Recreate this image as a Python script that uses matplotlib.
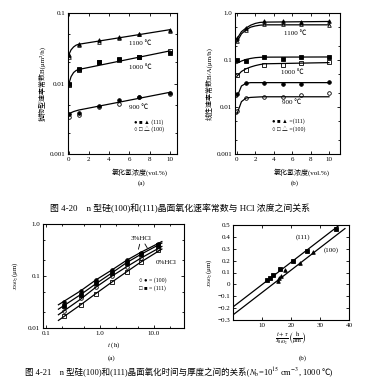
import matplotlib
matplotlib.use("Agg")
import matplotlib.pyplot as plt
from matplotlib.ticker import FixedLocator, NullFormatter, FixedFormatter

plt.rcParams['font.family'] = ['Liberation Serif', 'Noto Sans CJK SC', 'DejaVu Sans']
plt.rcParams['mathtext.fontset'] = 'stix'

# ---------------- data: Fig 4-20 (a) parabolic rate constant B ----------------
hcl_pts = [0, 1, 3, 5, 7, 10]
a_1100_111 = [0.025, 0.036, 0.041, 0.046, 0.051, 0.058]
a_1100_100 = [0.024, 0.035, 0.039, 0.044, 0.050, 0.056]
a_1000_111 = [0.0098, 0.0158, 0.020, 0.022, 0.024, 0.027]
a_1000_100 = [0.0095, 0.0155, 0.0205, 0.0215, 0.0235, 0.029]
a_900_111 = [0.0037, 0.0038, 0.0048, 0.0058, 0.0065, 0.0073]
a_900_100 = [0.0033, 0.0036, 0.0047, 0.0051, 0.0064, 0.0070]
# fitted curves
a_fit_x = [0, 0.25, 0.5, 0.75, 1, 10]
a_fit_1100 = [0.025, 0.030, 0.033, 0.035, 0.036, 0.058]
a_fit_1000 = [0.0095, 0.0125, 0.0143, 0.0153, 0.0158, 0.029]
a_fit_900 = [0.0037, 0.00385, 0.0040, 0.0041, 0.0042, 0.0075]

# ---------------- data: Fig 4-20 (b) linear rate constant B/A ----------------
b_1100_111 = [0.29, 0.47, 0.67, 0.66, 0.63, 0.67]
b_1100_100 = [0.25, 0.43, 0.59, 0.58, 0.57, 0.56]
b_1000_111 = [0.10, 0.095, 0.116, 0.103, 0.116, 0.118]
b_1000_100 = [0.047, 0.061, 0.079, 0.077, 0.088, 0.090]
b_900_111 = [0.0186, 0.033, 0.033, 0.031, 0.031, 0.034]
b_900_100 = [0.0083, 0.0154, 0.0166, 0.016, 0.0176, 0.0195]
b_fit_x = [0, 0.5, 1, 1.5, 2, 2.5, 3, 10]
b_fit_1100_111 = [0.28, 0.40, 0.48, 0.55, 0.60, 0.63, 0.64, 0.66]
b_fit_1100_100 = [0.24, 0.36, 0.44, 0.50, 0.53, 0.55, 0.56, 0.56]
b_fit_1000_111 = [0.085, 0.095, 0.103, 0.108, 0.112, 0.114, 0.115, 0.116]
b_fit_1000_100 = [0.045, 0.057, 0.065, 0.071, 0.076, 0.080, 0.083, 0.088]
b_fit_900_111 = [0.016, 0.028, 0.032, 0.033, 0.033, 0.033, 0.033, 0.033]
b_fit_900_100 = [0.007, 0.013, 0.0155, 0.016, 0.0162, 0.0164, 0.0165, 0.0165]

# ---------------- data: Fig 4-21 (a) thickness vs time ----------------
t_pts = [0.22, 0.44, 0.84, 1.65, 3.1, 5.7, 12]
x_3_100 = [0.032, 0.052, 0.085, 0.13, 0.20, 0.28, 0.42]
x_3_111 = [0.026, 0.044, 0.072, 0.115, 0.18, 0.26, 0.40]
x_0_100 = [0.021, 0.037, 0.062, 0.10, 0.15, 0.22, 0.34]
x_0_111 = [0.017, 0.028, 0.045, 0.075, 0.12, 0.19, 0.31]
t_fit = [0.17, 0.44, 0.84, 1.65, 3.1, 5.7, 14]
x_fit_3_100 = [0.028, 0.052, 0.084, 0.13, 0.20, 0.285, 0.46]
x_fit_3_111 = [0.023, 0.044, 0.071, 0.114, 0.18, 0.26, 0.43]
x_fit_0_100 = [0.018, 0.036, 0.061, 0.099, 0.15, 0.22, 0.37]
x_fit_0_111 = [0.014, 0.028, 0.046, 0.076, 0.12, 0.185, 0.33]

# ---------------- data: Fig 4-21 (b) linear plot ----------------
r_111 = [11.8, 12.8, 13.9, 16.3, 20.7, 25.4, 35.6]
y_111 = [0.04, 0.05, 0.08, 0.13, 0.20, 0.28, 0.47]
r_100 = [15.6, 15.7, 16.5, 17.9, 23.0, 27.7]
y_100 = [0.03, 0.05, 0.07, 0.12, 0.18, 0.27]
r_fit_111 = [0, 37.0]
y_fit_111 = [-0.19, 0.505]
r_fit_100 = [0, 38.6]
y_fit_100 = [-0.257, 0.47]

W, H = 376, 389
fig = plt.figure(figsize=(W / 100, H / 100), dpi=100)

def box(l, r, t, b):
    return [l / W, 1 - b / H, (r - l) / W, (b - t) / H]

FS = 5
LW = 0.9
MS = 2.6
CAP = 6.4
CAP2 = 6.1

def style(ax):
    ax.tick_params(direction='in', which='both', top=True, right=True,
                   labelsize=FS, length=2.5, width=0.6, pad=2)
    ax.tick_params(which='minor', length=1.5)
    for s in ax.spines.values():
        s.set_linewidth(0.8)

# ---------- top-left ----------
ax1 = fig.add_axes(box(68, 177, 13, 154))
ax1.set_yscale('log')
ax1.set_xlim(-0.05, 10.7)
ax1.set_ylim(0.001, 0.1)
for fy in (a_fit_1100, a_fit_1000, a_fit_900):
    ax1.plot(a_fit_x, fy, color='k', lw=LW)
for ys, mk, fc in [(a_1100_111, '^', 'k'), (a_1100_100, '^', 'none'),
                   (a_1000_111, 's', 'k'), (a_1000_100, 's', 'none'),
                   (a_900_111, 'o', 'k'), (a_900_100, 'o', 'none')]:
    ax1.plot(hcl_pts, ys, ls='none', marker=mk, ms=MS, mfc=fc, mec='k', mew=0.6)
ax1.set_xticks([0, 2, 4, 6, 8, 10])
ax1.yaxis.set_major_locator(FixedLocator([0.001, 0.01, 0.1]))
ax1.yaxis.set_major_formatter(FixedFormatter(['0.001', '0.01', '0.1']))
ax1.yaxis.set_minor_locator(FixedLocator([0.002, 0.005, 0.02, 0.05]))
ax1.yaxis.set_minor_formatter(NullFormatter())
style(ax1)
ax1.text(7.1, 0.037, '1100 ℃', fontsize=FS, ha='center', va='center')
ax1.text(7.1, 0.017, '1000 ℃', fontsize=FS, ha='center', va='center')
ax1.text(6.9, 0.0046, '900 ℃', fontsize=FS, ha='center', va='center')
ax1.text(7.9, 0.0028, '● ■ ▲ (111)', fontsize=4.2, ha='center', va='center')
ax1.text(7.9, 0.00225, '○ □ △ (100)', fontsize=4.2, ha='center', va='center')
ax1.set_ylabel('抛物型速率常数B(μm²/h)', fontsize=FS, labelpad=3)
fig.text(140 / W, 1 - 172 / H, '氯化氢浓度(vol.%)', fontsize=FS, ha='center', va='center')
fig.text(142 / W, 1 - 183 / H, '(a)', fontsize=FS, ha='center', va='center')

# ---------- top-right ----------
ax2 = fig.add_axes(box(235, 340, 13, 154))
ax2.set_yscale('log')
ax2.set_xlim(-0.2, 11.2)
ax2.set_ylim(0.001, 1.0)
for fy in (b_fit_1100_111, b_fit_1100_100, b_fit_1000_111, b_fit_1000_100,
           b_fit_900_111, b_fit_900_100):
    ax2.plot(b_fit_x, fy, color='k', lw=LW)
for ys, mk, fc in [(b_1100_111, '^', 'k'), (b_1100_100, '^', 'none'),
                   (b_1000_111, 's', 'k'), (b_1000_100, 's', 'none'),
                   (b_900_111, 'o', 'k'), (b_900_100, 'o', 'none')]:
    ax2.plot(hcl_pts, ys, ls='none', marker=mk, ms=MS, mfc=fc, mec='k', mew=0.6)
ax2.set_xticks([0, 2, 4, 6, 8, 10])
ax2.yaxis.set_major_locator(FixedLocator([0.001, 0.01, 0.1, 1.0]))
ax2.yaxis.set_major_formatter(FixedFormatter(['0.001', '0.01', '0.1', '1.0']))
ax2.yaxis.set_minor_locator(FixedLocator([0.002, 0.005, 0.02, 0.05, 0.2, 0.5]))
ax2.yaxis.set_minor_formatter(NullFormatter())
style(ax2)
ax2.text(6.3, 0.37, '1100 ℃', fontsize=FS, ha='center', va='center')
ax2.text(6.0, 0.056, '1000 ℃', fontsize=FS, ha='center', va='center')
ax2.text(6.0, 0.013, '900 ℃', fontsize=FS, ha='center', va='center')
ax2.text(5.6, 0.005, '● ■ ▲ =(111)', fontsize=4.2, ha='center', va='center')
ax2.text(5.6, 0.0034, '○ □ △ =(100)', fontsize=4.2, ha='center', va='center')
ax2.set_ylabel('线性速率常数B/A(μm/h)', fontsize=FS, labelpad=3)
fig.text(302 / W, 1 - 172 / H, '氯化氢浓度(vol.%)', fontsize=FS, ha='center', va='center')
fig.text(295 / W, 1 - 183 / H, '(b)', fontsize=FS, ha='center', va='center')

fig.text(50 / W, 1 - 208 / H,
         '图 4-20    n 型硅(100)和(111)晶面氧化速率常数与 HCl 浓度之间关系',
         fontsize=CAP, ha='left', va='center')

# ---------- bottom-left ----------
ax3 = fig.add_axes(box(43, 184, 224, 328))
ax3.set_xscale('log')
ax3.set_yscale('log')
ax3.set_xlim(0.088, 36)
ax3.set_ylim(0.01, 1.0)
for fy in (x_fit_3_100, x_fit_3_111, x_fit_0_100, x_fit_0_111):
    ax3.plot(t_fit, fy, color='k', lw=LW)
for ys, mk, fc in [(x_3_100, 'o', 'k'), (x_3_111, 's', 'k'),
                   (x_0_100, 'o', 'none'), (x_0_111, 's', 'none')]:
    ax3.plot(t_pts, ys, ls='none', marker=mk, ms=MS, mfc=fc, mec='k', mew=0.6)
ax3.xaxis.set_major_locator(FixedLocator([0.1, 1.0, 10.0]))
ax3.xaxis.set_major_formatter(FixedFormatter(['0.1', '1.0', '10.0']))
ax3.xaxis.set_minor_locator(FixedLocator([0.2, 0.5, 2, 5, 20]))
ax3.xaxis.set_minor_formatter(NullFormatter())
ax3.yaxis.set_major_locator(FixedLocator([0.01, 0.1, 1.0]))
ax3.yaxis.set_major_formatter(FixedFormatter(['0.01', '0.1', '1.0']))
ax3.yaxis.set_minor_locator(FixedLocator([0.02, 0.05, 0.2, 0.5]))
ax3.yaxis.set_minor_formatter(NullFormatter())
style(ax3)
ax3.text(5.8, 0.52, '3%HCl', fontsize=FS, ha='center', va='center')
ax3.annotate('', xy=(5.0, 0.29), xytext=(5.6, 0.46),
             arrowprops=dict(arrowstyle='-', lw=0.6, color='k'))
ax3.annotate('', xy=(8.0, 0.31), xytext=(6.4, 0.46),
             arrowprops=dict(arrowstyle='-', lw=0.6, color='k'))
ax3.text(17, 0.18, '0%HCl', fontsize=FS, ha='center', va='center')
ax3.text(9.5, 0.084, '○ ● = (100)', fontsize=4.2, ha='center', va='center')
ax3.text(9.5, 0.059, '□ ■ = (111)', fontsize=4.2, ha='center', va='center')
ax3.set_ylabel('$x_{\\mathrm{SiO_2}}$(μm)', fontsize=FS, labelpad=5)
ax3.set_xlabel('$t$ (h)', fontsize=FS, labelpad=3)
fig.text(112 / W, 1 - 358 / H, '(a)', fontsize=FS, ha='center', va='center')

# ---------- bottom-right ----------
ax4 = fig.add_axes(box(233, 349, 225, 320))
ax4.set_xlim(0, 40)
ax4.set_ylim(-0.3, 0.5)
ax4.plot(r_fit_111, y_fit_111, color='k', lw=LW)
ax4.plot(r_fit_100, y_fit_100, color='k', lw=LW)
ax4.plot(r_111, y_111, ls='none', marker='s', ms=MS, mfc='k', mec='k', mew=0.6)
ax4.plot(r_100, y_100, ls='none', marker='^', ms=MS, mfc='k', mec='k', mew=0.6)
ax4.set_xticks([10, 20, 30, 40])
ax4.set_yticks([-0.3, -0.2, -0.1, 0, 0.1, 0.2, 0.3, 0.4, 0.5])
ax4.set_yticklabels(['−0.3', '−0.2', '−0.1', '0', '0.1', '0.2', '0.3', '0.4', '0.5'])
style(ax4)
ax4.text(24, 0.40, '(111)', fontsize=FS, ha='center', va='center')
ax4.text(34, 0.29, '(100)', fontsize=FS, ha='center', va='center')
ax4.set_ylabel('$x_{\\mathrm{SiO_2}}$(μm)', fontsize=FS, labelpad=2)
ax4.set_xlabel('$\\frac{t+\\tau}{x_{\\mathrm{SiO_2}}}\\left(\\frac{\\mathrm{h}}{\\mu\\mathrm{m}}\\right)$',
               fontsize=6.5, labelpad=2)
fig.text(303 / W, 1 - 358 / H, '(b)', fontsize=FS, ha='center', va='center')

# caption of Fig 4-21, split so CJK and math text each use a suitable font
c1 = fig.text(25 / W, 1 - 375 / H,
              '图 4-21    n 型硅(100)和(111)晶面氧化时间与厚度之间的关系(',
              fontsize=CAP2, ha='left', va='baseline')
c2 = fig.text(0, 0, '$N_{\\mathrm{b}}$=10$^{15}$ cm$^{-3}$, 1000',
              fontsize=CAP2, ha='left', va='baseline')
c3 = fig.text(0, 0, '℃)', fontsize=CAP2, ha='left', va='baseline')
fig.canvas.draw()
r = fig.canvas.get_renderer()
inv = fig.transFigure.inverted()
e1 = c1.get_window_extent(r)
x2 = inv.transform((e1.x1, 0))[0]
c2.set_position((x2, 1 - 375 / H))
e2 = c2.get_window_extent(r)
x3 = inv.transform((e2.x1, 0))[0]
c3.set_position((x3, 1 - 375 / H))

fig.savefig('out.png', dpi=100)
